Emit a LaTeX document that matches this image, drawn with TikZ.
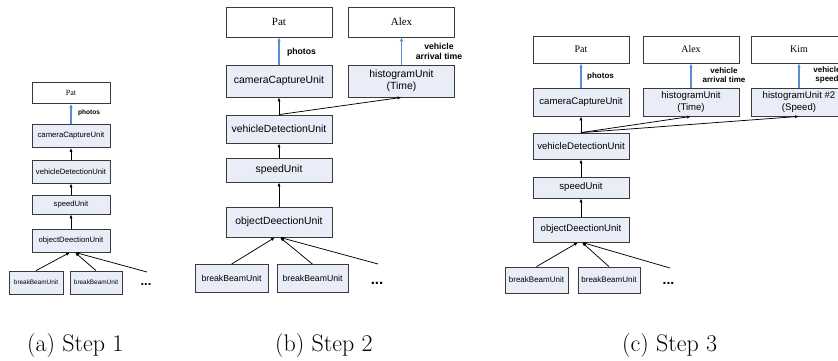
\documentclass[tikz,border=0pt]{standalone}
\usepackage{fontspec}
\usetikzlibrary{arrows.meta}
\newfontfamily\sansf{Liberation Sans}
\newfontfamily\seriff{Liberation Serif}
\definecolor{boxfill}{HTML}{E8EDF8}
\definecolor{boxline}{HTML}{3A3A3A}
\definecolor{feedblue}{HTML}{5B8DD6}
\newcommand\fs[2]{\fontsize{#1}{#2}\selectfont}
\begin{document}
\begin{tikzpicture}[x=1pt,y=-1pt,
  box/.style={draw=boxline, line width=0.8pt, inner sep=0pt, align=center},
  unit/.style={box, fill=boxfill},
  person/.style={box, fill=white},
  flow/.style={-{Latex[length=4pt,width=3.2pt]}, line width=0.75pt, draw=black},
  feed/.style={-{Latex[length=4pt,width=3.6pt]}, line width=1.2pt, draw=feedblue},
  lbl/.style={inner sep=0pt, align=center},
  moretext/.style={inner sep=0pt},
  captext/.style={inner sep=0pt, anchor=base west, font=\fs{24}{28}},
  ua/.style={unit, minimum width=78pt, font=\sansf\fs{7.7}{9}},
  ba/.style={unit, font=\sansf\fs{6.4}{7.5}},
  pa/.style={person, minimum width=78pt, minimum height=21pt, font=\seriff\fs{8}{9}},
  la/.style={lbl, font=\sansf\bfseries\fs{6.6}{7.5}},
  ub/.style={unit, minimum width=106pt, font=\sansf\fs{10.4}{12.5}},
  bbb/.style={unit, font=\sansf\fs{8.7}{10}},
  pb/.style={person, minimum width=106pt, minimum height=30pt, font=\seriff\fs{11}{12}},
  lb/.style={lbl, font=\sansf\bfseries\fs{8.7}{10.5}},
  uc/.style={unit, minimum width=96pt, font=\sansf\fs{9.6}{11.5}},
  bc/.style={unit, font=\sansf\fs{8}{9}},
  pc/.style={person, minimum width=96pt, minimum height=27pt, font=\seriff\fs{10}{11}},
  lc/.style={lbl, font=\sansf\bfseries\fs{8}{9.6}},
]
\useasboundingbox (0,0) rectangle (838,360);
\clip (0,0) rectangle (838,360);

% ---------------- (a) ----------------
\node[pa] (aPat) at (71,93) {Pat};
\node[ua, minimum height=23pt] (aCam) at (71,136) {cameraCaptureUnit};
\node[ua, minimum height=23pt] (aVeh) at (71,171.5) {vehicleDetectionUnit};
\node[ua, minimum height=19pt] (aSpd) at (71,204.5) {speedUnit};
\node[ua, minimum height=23pt] (aObj) at (71,240.5) {objectDeectionUnit};
\node[ba, minimum width=54pt, minimum height=23pt] (aBB1) at (36,282.5) {breakBeamUnit};
\node[ba, minimum width=52pt, minimum height=23pt] (aBB2) at (96,282.5) {breakBeamUnit};
\node[moretext, font=\sansf\bfseries\fs{13}{13}] (aDots) at (146,285) {...};
\coordinate (aMore) at (147,272);
\node[la] (aPh) at (89,113) {photos};
\draw[feed] (aCam) -- (aPat);
\draw[flow] (aVeh) -- (aCam);
\draw[flow] (aSpd) -- (aVeh);
\draw[flow] (aObj) -- (aSpd);
\draw[flow] (aBB1.north) -- ([xshift=-1pt]aObj.south);
\draw[flow] (aBB2.north) -- ([xshift=4pt]aObj.south);
\draw[flow] (aMore) -- ([xshift=4pt]aObj.south);

% ---------------- (b) ----------------
\node[pb] (bPat) at (279,22) {Pat};
\node[pb] (bAlex) at (401.5,22) {Alex};
\node[ub, minimum height=32pt] (bCam) at (279,81) {cameraCaptureUnit};
\node[ub, minimum height=32pt] (bHist) at (401.5,81) {histogramUnit\\(Time)};
\node[ub, minimum height=28pt] (bVeh) at (279,129) {vehicleDetectionUnit};
\node[ub, minimum height=24pt] (bSpd) at (279,170) {speedUnit};
\node[ub, minimum height=30pt] (bObj) at (279,222) {objectDeectionUnit};
\node[bbb, minimum width=73pt, minimum height=28pt] (bBB1) at (231.5,278.5) {breakBeamUnit};
\node[bbb, minimum width=71pt, minimum height=28pt] (bBB2) at (312.5,278.5) {breakBeamUnit};
\node[moretext, font=\sansf\bfseries\fs{15}{15}] (bDots) at (377,283) {...};
\coordinate (bMore) at (378,264);
\node[lb] (bPh) at (301.5,52) {photos};
\node[lb] (bVat) at (439,51.5) {vehicle\\arrival time};
\draw[feed] (bCam) -- (bPat);
\draw[feed] (bHist) -- (bAlex);
\draw[flow] (bVeh) -- (bCam);
\draw[flow] (bVeh.north) -- (bHist.south);
\draw[flow] (bSpd) -- (bVeh);
\draw[flow] (bObj) -- (bSpd);
\draw[flow] (bBB1.north) -- ([xshift=-4pt]bObj.south);
\draw[flow] (bBB2.north) -- ([xshift=1pt]bObj.south);
\draw[flow] (bMore) -- ([xshift=1pt]bObj.south);

% ---------------- (c) ----------------
\node[pc] (cPat) at (581,49.5) {Pat};
\node[pc] (cAlex) at (691,49.5) {Alex};
\node[pc] (cKim) at (799,49.5) {Kim};
\node[uc, minimum height=28pt] (cCam) at (581,102) {cameraCaptureUnit};
\node[uc, minimum height=28pt] (cHist) at (691,102) {histogramUnit\\(Time)};
\node[uc, minimum height=28pt] (cHist2) at (799,102) {histogramUnit \#2\\(Speed)};
\node[uc, minimum height=26pt] (cVeh) at (581,146) {vehicleDetectionUnit};
\node[uc, minimum height=21pt] (cSpd) at (581,187.5) {speedUnit};
\node[uc, minimum height=25pt] (cObj) at (581,229.5) {objectDeectionUnit};
\node[bc, minimum width=63pt, minimum height=26pt] (cBB1) at (536.5,280) {breakBeamUnit};
\node[bc, minimum width=62pt, minimum height=26pt] (cBB2) at (609,280) {breakBeamUnit};
\node[moretext, font=\sansf\bfseries\fs{14}{14}] (cDots) at (668.5,283) {...};
\coordinate (cMore) at (670,268);
\node[lc] (cPh) at (600.5,76) {photos};
\node[lc] (cVat) at (724,75) {vehicle\\arrival time};
\node[lc] (cVs) at (827,75) {vehicle\\speed};
\draw[feed] (cCam) -- (cPat);
\draw[feed] (cHist) -- (cAlex);
\draw[feed] (cHist2) -- (cKim);
\draw[flow] (cVeh) -- (cCam);
\draw[flow] (cVeh.north) -- (cHist.south);
\draw[flow] (cVeh.north) -- (cHist2.south);
\draw[flow] (cSpd) -- (cVeh);
\draw[flow] (cObj) -- (cSpd);
\draw[flow] (cBB1.north) -- ([xshift=-3pt]cObj.south);
\draw[flow] (cBB2.north) -- ([xshift=1pt]cObj.south);
\draw[flow] (cMore) -- ([xshift=1pt]cObj.south);

% ---------------- captions ----------------
\node[captext] (capA) at (27,351) {(a) Step 1};
\node[captext] (capB) at (275,351) {(b) Step 2};
\node[captext] (capC) at (622,351) {(c) Step 3};
\end{tikzpicture}
\end{document}
